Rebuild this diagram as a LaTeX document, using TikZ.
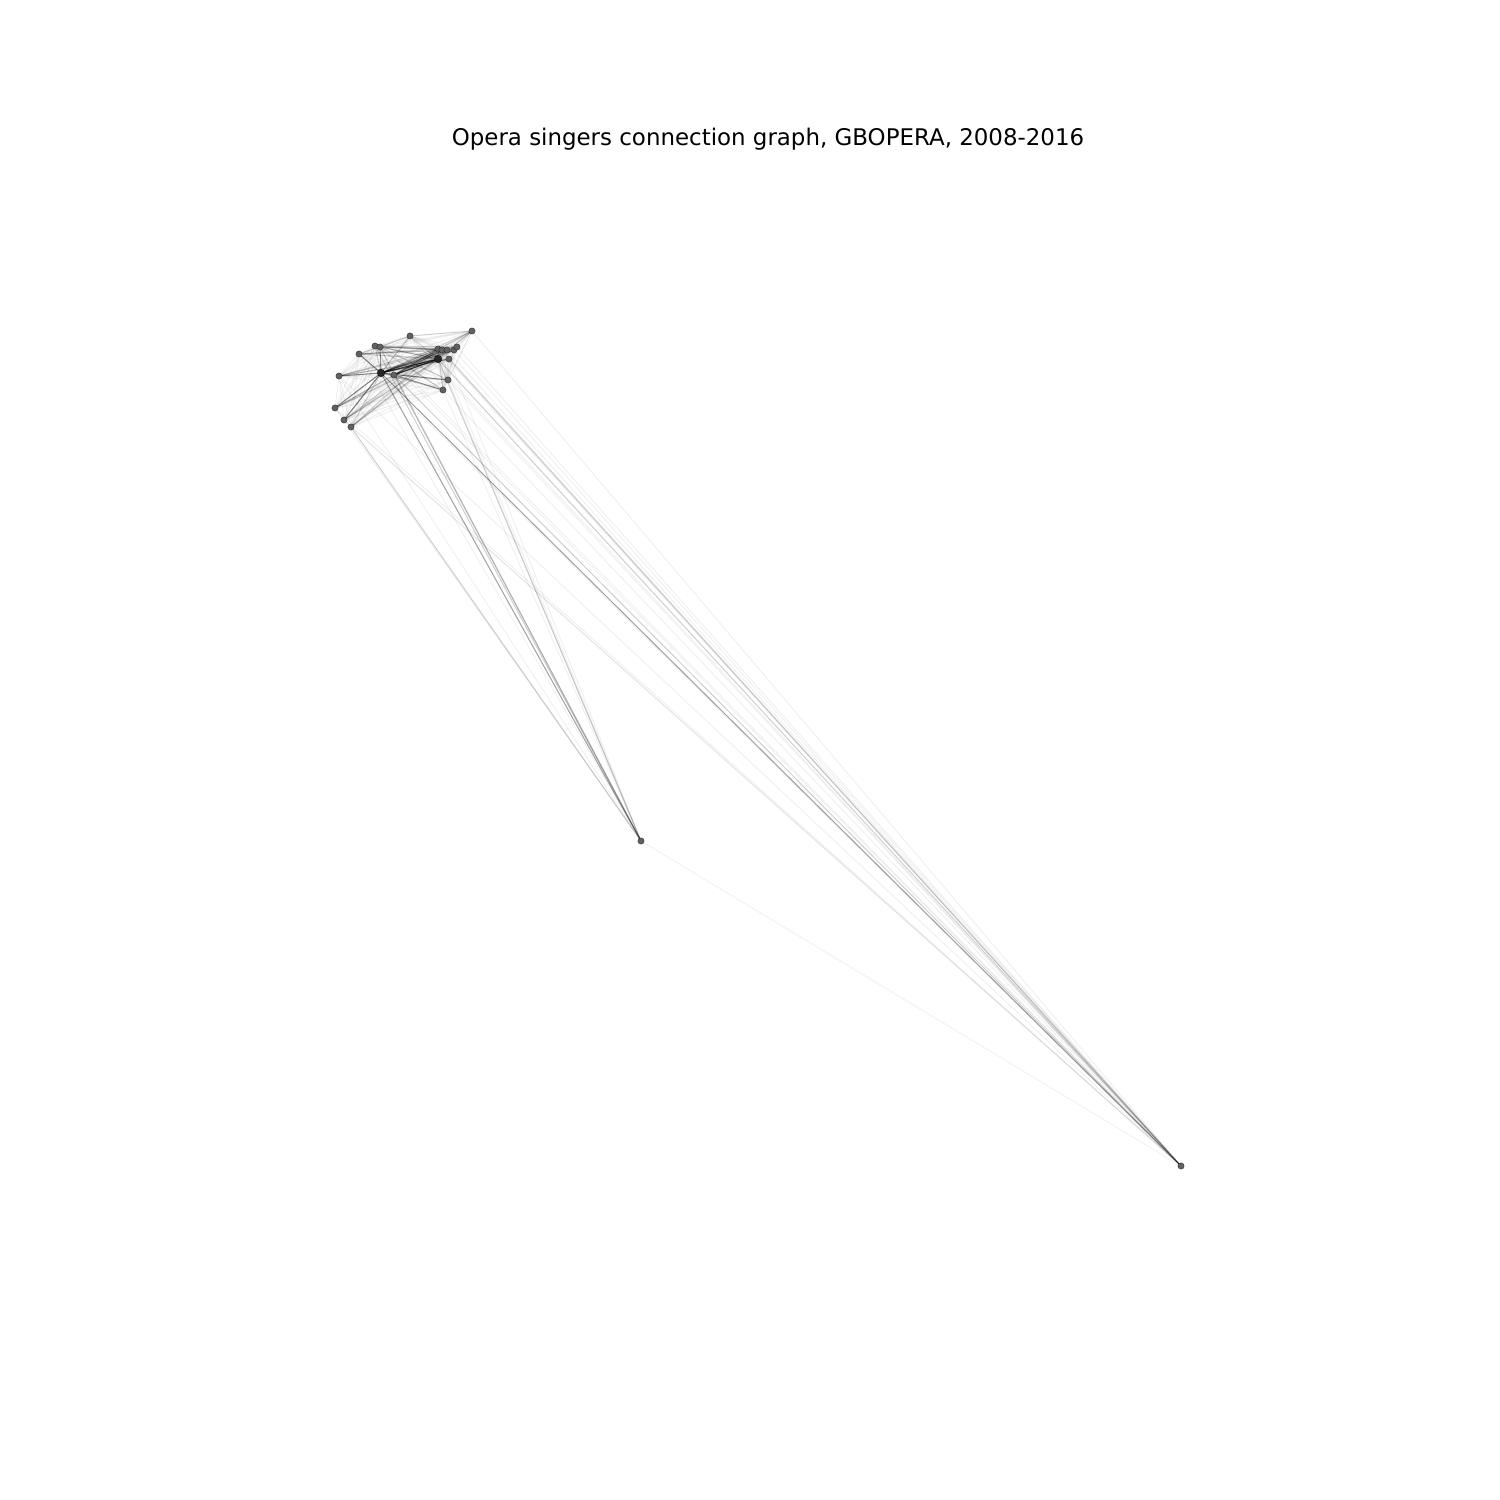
\documentclass[tikz,border=0pt]{standalone}
\usepackage{fontspec}
\setmainfont{DejaVu Sans}
\begin{document}
\begin{tikzpicture}[x=0.72pt,y=-0.72pt,
  vtx/.style={circle,fill=black!62,draw=black,draw opacity=0.6,line width=0.3pt,inner sep=0pt,minimum size=4.6pt},
  vbig/.style={vtx,minimum size=5.6pt,fill=black!85},
  ea/.style={black,opacity=0.06,line width=0.7pt},
  eb/.style={black,opacity=0.14,line width=0.7pt},
  ec/.style={black,opacity=0.38,line width=0.7pt},
  ed/.style={black,opacity=0.6,line width=0.8pt}]
\useasboundingbox (0,0) rectangle (1500,1500);
\node (title) at (768,139) {\fontsize{16.5pt}{19pt}\selectfont Opera singers connection graph, GBOPERA, 2008-2016};
% vertex coordinates
\coordinate (a) at (410,336);
\coordinate (b) at (472,331);
\coordinate (c) at (375,346);
\coordinate (d) at (380,347);
\coordinate (e) at (359,354);
\coordinate (f) at (438,349);
\coordinate (g) at (442,350);
\coordinate (h) at (447,350);
\coordinate (i) at (454,350);
\coordinate (j) at (457,347);
\coordinate (k) at (438,359);
\coordinate (l) at (449,359);
\coordinate (m) at (381,373);
\coordinate (n) at (394,375);
\coordinate (o) at (339,376);
\coordinate (p) at (448,380);
\coordinate (q) at (443,390);
\coordinate (r) at (335,408);
\coordinate (s) at (344,420);
\coordinate (t) at (351,427);
\coordinate (A) at (641,841);
\coordinate (B) at (1181,1166);
% light edges: full clique
\foreach \u/\rest in {a/{b,c,d,e,f,g,h,i,j,k,l,m,n,o,p,q,r,s,t},
  b/{c,d,e,f,g,h,i,j,k,l,m,n,o,p,q,r,s,t},
  c/{d,e,f,g,h,i,j,k,l,m,n,o,p,q,r,s,t},
  d/{e,f,g,h,i,j,k,l,m,n,o,p,q,r,s,t},
  e/{f,g,h,i,j,k,l,m,n,o,p,q,r,s,t},
  f/{g,h,i,j,k,l,m,n,o,p,q,r,s,t},
  g/{h,i,j,k,l,m,n,o,p,q,r,s,t},
  h/{i,j,k,l,m,n,o,p,q,r,s,t},
  i/{j,k,l,m,n,o,p,q,r,s,t},
  j/{k,l,m,n,o,p,q,r,s,t},
  k/{l,m,n,o,p,q,r,s,t},
  l/{m,n,o,p,q,r,s,t},
  m/{n,o,p,q,r,s,t},
  n/{o,p,q,r,s,t},
  o/{p,q,r,s,t},
  p/{q,r,s,t},
  q/{r,s,t},
  r/{s,t}, s/{t}}
  \foreach \v in \rest \draw[ea] (\u) -- (\v);
% medium cluster edges
\foreach \u/\v in {a/m,a/k,b/m,b/k,b/f,c/k,c/m,d/k,d/f,e/k,e/m,e/f,o/k,o/m,o/f,r/m,r/k,s/m,s/f,t/k,t/m,q/m,p/m,l/m,j/m,i/n,h/n,g/d,a/e,c/q,d/p,o/l,r/n,s/k,t/f,e/h,a/b,c/j,f/q}
  \draw[eb] (\u) -- (\v);
% strong cluster edges
\foreach \u/\v in {m/k,m/f,n/k,m/g,m/h,n/f,m/n,m/i,n/g,n/q,m/l,r/m,s/m,d/m,c/d,o/m,e/m,m/p}
  \draw[ec] (\u) -- (\v);
\draw[ed] (m) -- (k);
\draw[ed] (n) -- (k);
% long edges to A
\foreach \u in {c,d,n,t,s,k,q,p,l,e,o,f}
  \draw[ea] (\u) -- (A);
\foreach \u in {d,n,t,k,c}
  \draw[eb] (\u) -- (A);
\draw[ec] (m) -- (A);
% long edges to B
\foreach \u in {a,b,c,d,e,f,g,h,i,j,k,l,n,o,p,q,r,s,t}
  \draw[ea] (\u) -- (B);
\foreach \u in {k,l,n}
  \draw[eb] (\u) -- (B);
\draw[ec] (m) -- (B);
\draw[black,opacity=0.05,line width=0.7pt] (A) -- (B);
% vertices
\foreach \v in {a,b,c,d,e,f,g,h,i,j,l,n,o,p,q,r,s,t,A,B}
  \node[vtx] (v\v) at (\v) {};
\node[vbig] (vm) at (m) {};
\node[vbig] (vk) at (k) {};
\end{tikzpicture}
\end{document}
